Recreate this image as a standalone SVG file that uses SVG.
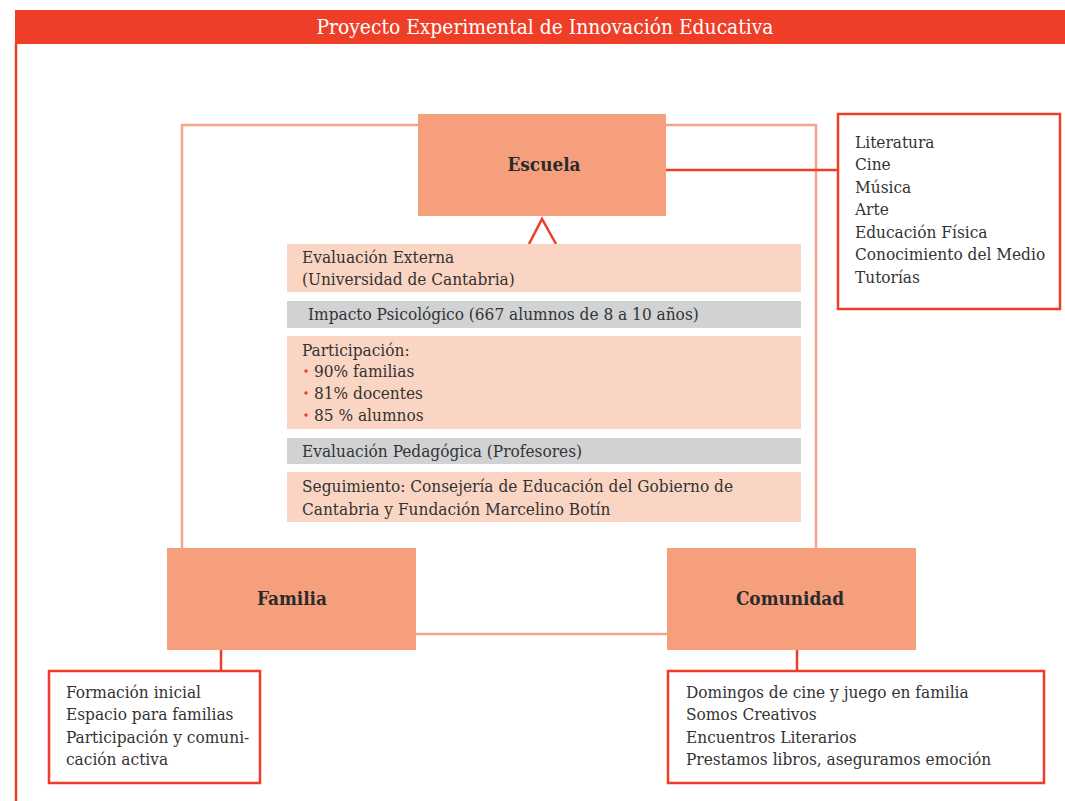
<svg xmlns="http://www.w3.org/2000/svg" width="1065" height="801" viewBox="0 0 1065 801">
<style>
.t{font-family:"DejaVu Serif Condensed","DejaVu Serif",serif;font-size:17.1px;fill:#333;}
.h{font-family:"DejaVu Serif Condensed","DejaVu Serif",serif;font-size:20.8px;fill:#ffffff;}
.b{font-family:"DejaVu Serif Condensed","DejaVu Serif",serif;font-size:18.8px;font-weight:bold;fill:#2b2b2b;}
.node{fill:#f69f7d;}
.peach{fill:#fbd5c3;}
.gray{fill:#d1d2d4;}
.list{fill:#ffffff;stroke:#ee3e27;stroke-width:2.5;}
.soft{fill:none;stroke:#f7a486;stroke-width:2.5;}
.red{fill:none;stroke:#ee3e27;stroke-width:2.5;}
.dot{fill:#ee3e27;}
</style>
<rect width="1065" height="801" fill="#ffffff"/>
<g id="header">
<rect x="15" y="10" width="1050" height="34" fill="#ee3e27"/>
<text class="h" x="545" y="34" text-anchor="middle">Proyecto Experimental de Innovación Educativa</text>
<line x1="16" y1="44" x2="16" y2="801" stroke="#ee3e27" stroke-width="2.5"/>
</g>
<g id="connectors">
<polyline class="soft" points="182,548 182,125 816,125 816,548"/>
<line class="soft" x1="416" y1="634" x2="668" y2="634"/>
<line class="red" x1="666" y1="170" x2="838" y2="170"/>
<polyline class="red" points="529,244 542,219 556,244"/>
<line class="red" x1="221" y1="650" x2="221" y2="671"/>
<line class="red" x1="797" y1="650" x2="797" y2="671"/>
</g>
<g id="escuela">
<rect class="node" x="418" y="114" width="248" height="102"/>
<text class="b" x="544" y="171" text-anchor="middle">Escuela</text>
</g>
<g id="familia">
<rect class="node" x="167" y="548" width="249" height="102"/>
<text class="b" x="292" y="605" text-anchor="middle">Familia</text>
</g>
<g id="comunidad">
<rect class="node" x="667" y="548" width="249" height="102"/>
<text class="b" x="790" y="605" text-anchor="middle">Comunidad</text>
</g>
<g id="evaluacion">
<rect class="peach" x="287" y="244" width="514" height="48"/>
<text class="t" x="302" y="263">Evaluación Externa</text>
<text class="t" x="302" y="285">(Universidad de Cantabria)</text>
<rect class="gray" x="287" y="301" width="514" height="27"/>
<text class="t" x="308" y="320">Impacto Psicológico (667 alumnos de 8 a 10 años)</text>
<rect class="peach" x="287" y="336" width="514" height="93"/>
<text class="t" x="302" y="356">Participación:</text>
<circle class="dot" cx="306" cy="371" r="1.7"/>
<text class="t" x="314" y="377">90% familias</text>
<circle class="dot" cx="306" cy="393" r="1.7"/>
<text class="t" x="314" y="399">81% docentes</text>
<circle class="dot" cx="306" cy="415" r="1.7"/>
<text class="t" x="314" y="421">85 % alumnos</text>
<rect class="gray" x="287" y="438" width="514" height="26"/>
<text class="t" x="302" y="457">Evaluación Pedagógica (Profesores)</text>
<rect class="peach" x="287" y="472" width="514" height="50"/>
<text class="t" x="302" y="492">Seguimiento: Consejería de Educación del Gobierno de</text>
<text class="t" x="302" y="515">Cantabria y Fundación Marcelino Botín</text>
</g>
<g id="escuela-list">
<rect class="list" x="838" y="114" width="222" height="195"/>
<text class="t" x="855" y="148">Literatura</text>
<text class="t" x="855" y="170">Cine</text>
<text class="t" x="855" y="193">Música</text>
<text class="t" x="855" y="215">Arte</text>
<text class="t" x="855" y="238">Educación Física</text>
<text class="t" x="855" y="260">Conocimiento del Medio</text>
<text class="t" x="855" y="283">Tutorías</text>
</g>
<g id="familia-list">
<rect class="list" x="49" y="671" width="211" height="112"/>
<text class="t" x="66" y="698">Formación inicial</text>
<text class="t" x="66" y="720">Espacio para familias</text>
<text class="t" x="66" y="743">Participación y comuni-</text>
<text class="t" x="66" y="765">cación activa</text>
</g>
<g id="comunidad-list">
<rect class="list" x="668" y="671" width="376" height="112"/>
<text class="t" x="686" y="698">Domingos de cine y juego en familia</text>
<text class="t" x="686" y="720">Somos Creativos</text>
<text class="t" x="686" y="743">Encuentros Literarios</text>
<text class="t" x="686" y="765">Prestamos libros, aseguramos emoción</text>
</g>
</svg>
